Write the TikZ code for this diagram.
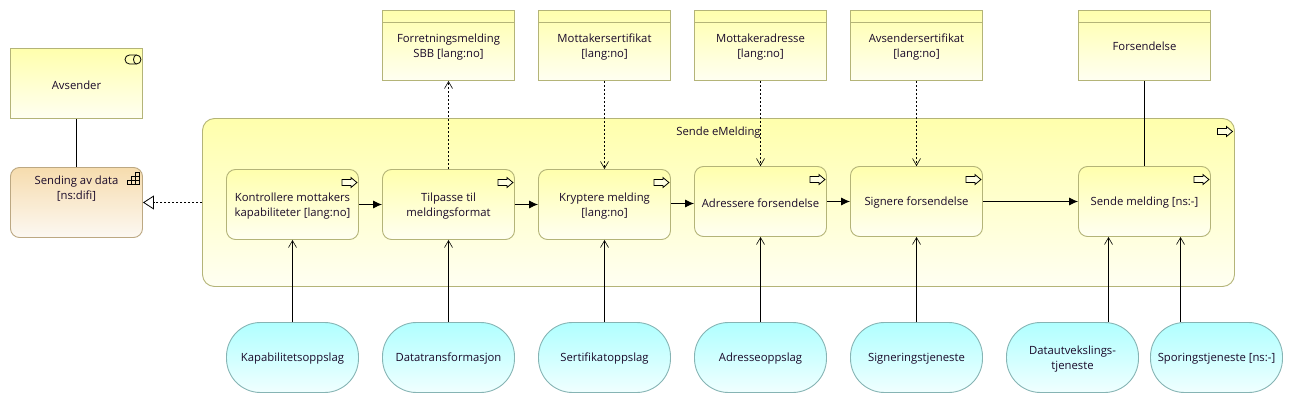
\documentclass[tikz,border=0pt]{standalone}
\usepackage{fontspec}
\setmainfont{Open Sans}
\usetikzlibrary{arrows.meta,calc}
\definecolor{edgeY}{HTML}{B4B478}
\definecolor{edgeO}{HTML}{BCA882}
\definecolor{edgeC}{HTML}{86B4B4}
\definecolor{txt}{HTML}{1A0A2A}
\definecolor{ytop}{HTML}{FFFFAC}
\definecolor{ybot}{HTML}{FFFFF2}
\definecolor{ctop}{HTML}{B0FFFF}
\definecolor{cbot}{HTML}{F0FFFF}
\definecolor{otop}{HTML}{F6DCAE}
\definecolor{obot}{HTML}{FCF8F2}
\tikzset{
  x=1pt,y=-1pt,
  every node/.append style={font=\fontsize{11.3}{15}\selectfont,text=txt,align=center,inner sep=0pt},
  say/.style={label={[yshift=-1.5pt]center:{#1}}},
  yel/.style={draw=edgeY,line width=.9pt,minimum width=132pt,minimum height=70pt,top color=ytop,bottom color=ybot},
  proc/.style={yel,rounded corners=9pt},
  obj/.style={yel},
  svc/.style={draw=edgeC,line width=.9pt,minimum width=132pt,minimum height=70pt,rounded corners=34pt,top color=ctop,bottom color=cbot},
  grp/.style={draw=edgeO,line width=.9pt,minimum width=132pt,minimum height=70pt,rounded corners=9pt,top color=otop,bottom color=obot},
  link/.style={line width=.9pt,black},
  flow/.style={link,-{Latex[length=9pt,width=8pt]}},
  serve/.style={link,-{Straight Barb[length=7pt,width=8pt,line width=.6pt]}},
  access/.style={link,dash pattern=on 2pt off 2pt,-{Straight Barb[length=7pt,width=8pt,line width=.6pt]}},
  realize/.style={link,dash pattern=on 2pt off 2pt,-{Triangle[open,length=11pt,width=14pt,fill=white,line width=.8pt]}},
  pics/parrow/.style={code={
    \draw[line width=.8pt,fill=white,fill opacity=.6,line join=miter] (-17,10.5)--(-8,10.5)--(-8,8.5)--(-2,13.5)--(-8,18.5)--(-8,16.5)--(-17,16.5)--cycle;}},
}
\begin{document}
\begin{tikzpicture}
\useasboundingbox (0,0) rectangle (1293,403);
% role and grouping
\node[obj,say={Avsender}] (avs) at (76.5,83.5) {};
\draw[line width=.8pt] (129.5,55) -- (136.5,55) arc[start angle=-90,end angle=90,radius=4.5] -- (129.5,64) arc[start angle=90,end angle=270,radius=4.5] -- cycle;
\draw[line width=.8pt] (136.5,55) arc[start angle=-90,end angle=-270,x radius=3,y radius=4.5];
\node[grp] (sen) at (76.5,202.5) {};
\node (sentxt) at (76.5,189) {Sending av data\\{}[ns:difi]};
\draw[line width=.8pt] (127,184.5) rectangle (139,180) (131,184.5) -- (131,176) -- (139,176) (135,184.5) -- (135,172) -- (139,172) -- (139,180);
% big process
\node[proc,minimum width=1032pt,minimum height=168pt,rounded corners=12pt] (big) at (718.5,202.5) {};
\node (bigtxt) at (718.5,132.5) {Sende eMelding};
\pic at (1234.5,118) {parrow};
% processes
\node[proc,say={Kontrollere mottakers\\kapabiliteter [lang:no]}] (kon) at (292.5,204.5) {};
\node[proc,say={Tilpasse til\\meldingsformat}] (til) at (448.5,204.5) {};
\node[proc,say={Kryptere melding\\{}[lang:no]}] (kry) at (604.5,204.5) {};
\node[proc,say={Adressere forsendelse}] (adr) at (760.5,201.5) {};
\node[proc,say={Signere forsendelse}] (sig) at (916.5,201.5) {};
\node[proc,say={Sende melding [ns:-]}] (snd) at (1144.5,201.5) {};
\foreach \n in {kon,til,kry,adr,sig,snd} {\pic at (\n.north east) {parrow};}
% data objects
\foreach \n/\x/\y/\t in {fm/448.5/46.8/{Forretningsmelding\\SBB [lang:no]},ms/604.5/46.8/{Mottakersertifikat\\{}[lang:no]},ma/760.5/46.8/{Mottakeradresse\\{}[lang:no]},as/916.5/46.8/{Avsendersertifikat\\{}[lang:no]},fo/1144.5/46/{Forsendelse}} {
  \node[obj] (\n) at (\x,45.5) {};
  \draw[edgeY,line width=.9pt] (\n.north west) ++(0,12) -- ++(132,0);
  \node (\n txt) at (\x,\y) {\t};
}
% services
\node[svc,say={Kapabilitetsoppslag}] (s1) at (292.5,357.5) {};
\node[svc,say={Datatransformasjon}] (s2) at (448.5,357.5) {};
\node[svc,say={Sertifikatoppslag}] (s3) at (604.5,357.5) {};
\node[svc,say={Adresseoppslag}] (s4) at (760.5,357.5) {};
\node[svc,say={Signeringstjeneste}] (s5) at (916.5,357.5) {};
\node[svc,say={Datautvekslings-\\tjeneste}] (s6) at (1072.5,357.5) {};
\node[svc,say={Sporingstjeneste [ns:-]}] (s7) at (1216.5,357.5) {};
% connectors
\draw[link] (avs) -- (sen);
\draw[realize] (big.west |- sen.east) -- (sen.east);
\draw[flow] (kon) -- (til);
\draw[flow] (til) -- (kry);
\draw[flow] ([yshift=1pt]kry.east) -- ([yshift=1pt]kry.east -| adr.west);
\draw[flow] (adr) -- (sig);
\draw[flow] (sig) -- (snd);
\draw[access] (til) -- (fm);
\draw[access] (ms) -- (kry);
\draw[access] (ma) -- (adr);
\draw[access] (as) -- (sig);
\draw[link] (fo) -- (snd);
\draw[serve] (s1) -- (kon);
\draw[serve] (s2) -- (til);
\draw[serve] (s3) -- (kry);
\draw[serve] (s4) -- (adr);
\draw[serve] (s5) -- (sig);
\coordinate (c6) at (1108.5,322.5);
\coordinate (c7) at (1180.5,322.5);
\draw[serve] (c6) -- (c6 |- snd.south);
\draw[serve] (c7) -- (c7 |- snd.south);
\end{tikzpicture}
\end{document}
